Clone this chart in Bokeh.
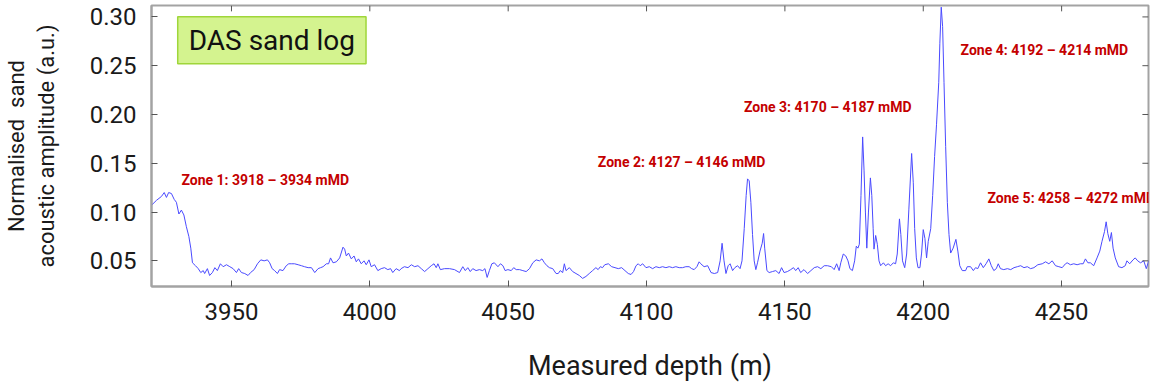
from bokeh.plotting import figure
from bokeh.models import FixedTicker, NumeralTickFormatter, Range1d, Label
from bokeh.embed import file_html
from bokeh.resources import INLINE

# ---- data (depth in m, normalised sand acoustic amplitude) ----
depth = [
    3921.1, 3922.9, 3924.7, 3925.7, 3926.5, 3927.3, 3928.3, 3929.3, 3930.1, 3931.0,
    3931.9, 3932.8, 3933.7, 3934.6, 3935.3, 3935.9, 3937.0, 3938.0, 3938.9, 3939.8,
    3940.3, 3941.3, 3942.1, 3943.1, 3944.0, 3944.9, 3946.0, 3947.0, 3948.2, 3949.4,
    3950.6, 3951.8, 3952.6, 3953.6, 3954.8, 3956.0, 3956.9, 3958.2, 3959.4, 3960.6,
    3961.8, 3963.0, 3963.8, 3964.7, 3965.6, 3966.6, 3967.4, 3968.6, 3969.8, 3970.7,
    3971.6, 3972.8, 3974.1, 3975.3, 3976.4, 3977.7, 3978.9, 3980.1, 3981.3, 3982.2,
    3983.1, 3984.3, 3985.1, 3985.8, 3986.7, 3987.9, 3989.1, 3990.3, 3990.9, 3991.5,
    3992.3, 3993.3, 3994.3, 3995.1, 3995.9, 3996.9, 3997.9, 3998.7, 3999.7, 4000.5,
    4001.7, 4002.9, 4004.1, 4005.3, 4006.5, 4007.5, 4008.3, 4009.5, 4010.7,
    4011.3, 4012.5, 4013.8, 4015.0, 4016.2, 4017.4, 4018.6, 4019.8, 4021.0, 4022.2,
    4023.2, 4024.0, 4024.6, 4025.5, 4027.0, 4028.8, 4030.6, 4032.4, 4033.6, 4034.5,
    4035.4, 4036.3, 4037.2, 4038.4, 4039.6, 4040.8, 4041.6, 4042.4, 4043.2, 4044.1,
    4045.0, 4046.3, 4047.2, 4048.1, 4048.9, 4049.9, 4051.1, 4052.0, 4052.9, 4054.1,
    4055.3, 4056.5, 4057.7, 4058.9, 4060.1, 4061.3, 4062.2, 4063.1, 4064.0, 4064.9,
    4066.1, 4067.3, 4068.1, 4068.8, 4069.7, 4070.3, 4070.9, 4072.1, 4073.3, 4074.5,
    4075.7, 4076.9, 4078.1, 4079.3, 4080.5, 4081.7, 4082.5, 4083.3, 4084.1, 4084.9,
    4086.2, 4087.4, 4088.6, 4089.8, 4091.0, 4092.2, 4093.4, 4094.4, 4095.3, 4096.2,
    4097.0, 4097.7, 4098.6, 4099.8, 4101.0, 4102.2, 4103.4, 4104.6, 4105.8, 4107.0,
    4108.2, 4109.4, 4110.6, 4111.8, 4113.0, 4114.2, 4115.4, 4116.3, 4117.2, 4118.2,
    4119.0,
    4119.6, 4120.8, 4122.1, 4123.3, 4124.5, 4125.7, 4126.6, 4127.3, 4128.0, 4128.7,
    4129.5, 4130.2, 4131.1, 4131.9, 4132.9, 4133.8, 4134.5, 4135.3, 4136.0, 4136.5,
    4137.1, 4137.7, 4138.3, 4138.9, 4139.5, 4140.1, 4141.0, 4141.8, 4142.3, 4142.7,
    4143.5, 4144.3, 4145.5, 4146.7, 4147.9, 4148.8, 4149.7, 4150.9, 4152.1, 4153.1,
    4153.9, 4154.8, 4155.7, 4156.9, 4158.2, 4159.4, 4160.6, 4161.8, 4163.0, 4164.2,
    4165.4, 4166.8, 4167.8, 4168.7, 4169.6, 4170.2, 4171.1, 4172.0, 4172.8, 4173.5,
    4174.4, 4175.2, 4175.8, 4176.4, 4176.9, 4177.5, 4178.1, 4178.6, 4179.1, 4179.6,
    4180.2, 4180.9, 4181.4, 4181.9, 4182.2, 4182.8, 4183.4, 4184.0, 4184.6, 4185.6,
    4186.4, 4187.3, 4188.2, 4189.2, 4190.0, 4190.6, 4191.4, 4191.9, 4192.5, 4193.3,
    4194.0, 4194.8, 4195.8, 4196.4, 4196.9, 4197.5, 4198.1, 4198.8, 4199.4, 4200.0,
    4200.6, 4201.2, 4201.8, 4202.7, 4203.4, 4204.1, 4204.8, 4205.6, 4206.0, 4206.5,
    4207.0, 4207.5, 4208.1, 4208.7, 4209.3,
    4209.9, 4210.8, 4211.8, 4212.5, 4213.2, 4214.1, 4215.3, 4215.9, 4217.1, 4218.1,
    4218.9, 4219.7, 4220.7, 4221.7, 4222.7, 4223.7, 4224.6, 4225.5, 4226.4, 4227.1,
    4227.9, 4229.1, 4230.4, 4231.6, 4232.8, 4234.0, 4235.2, 4236.4, 4237.6, 4238.8,
    4240.0, 4241.4, 4243.0, 4244.2, 4245.4, 4246.6, 4247.8, 4249.0, 4250.2, 4251.4,
    4252.0, 4253.2, 4254.4, 4255.6, 4256.8, 4257.8, 4258.6, 4259.5, 4260.4, 4261.6,
    4262.8, 4263.8, 4264.6, 4265.5, 4266.1, 4266.7, 4267.4, 4268.0, 4268.6, 4269.4,
    4270.6, 4271.8, 4273.0, 4273.6, 4274.6, 4275.8, 4276.6, 4277.5, 4278.5, 4279.7,
    4280.6, 4281.5, 4282.1,
]

amplitude = [
    0.107, 0.112, 0.116, 0.120, 0.115, 0.120, 0.119, 0.113, 0.110, 0.098,
    0.102, 0.097, 0.085, 0.075, 0.063, 0.048, 0.045, 0.042, 0.038, 0.040,
    0.037, 0.042, 0.035, 0.038, 0.043, 0.040, 0.047, 0.044, 0.046, 0.044,
    0.042, 0.038, 0.042, 0.038, 0.037, 0.035, 0.038, 0.041, 0.047, 0.051,
    0.050, 0.051, 0.048, 0.042, 0.040, 0.037, 0.041, 0.040, 0.045, 0.047,
    0.047, 0.047, 0.046, 0.045, 0.044, 0.043, 0.043, 0.038, 0.042, 0.043,
    0.044, 0.047, 0.047, 0.053, 0.048, 0.049, 0.053, 0.064, 0.062, 0.055,
    0.058, 0.052, 0.055, 0.049, 0.052, 0.047, 0.050, 0.046, 0.051, 0.044,
    0.046, 0.040, 0.042, 0.043, 0.041, 0.042, 0.038, 0.042, 0.040,
    0.042, 0.044, 0.043, 0.046, 0.044, 0.045, 0.042, 0.039, 0.042, 0.045,
    0.047, 0.043, 0.047, 0.041, 0.042, 0.042, 0.041, 0.038, 0.044, 0.040,
    0.043, 0.039, 0.042, 0.040, 0.041, 0.040, 0.042, 0.033, 0.040, 0.047,
    0.048, 0.044, 0.047, 0.045, 0.040, 0.041, 0.040, 0.043, 0.041, 0.041,
    0.040, 0.039, 0.042, 0.048, 0.051, 0.050, 0.052, 0.048, 0.045, 0.043,
    0.042, 0.037, 0.037, 0.040, 0.038, 0.047, 0.040, 0.043, 0.039, 0.037,
    0.035, 0.032, 0.034, 0.037, 0.040, 0.043, 0.041, 0.044, 0.043, 0.046,
    0.047, 0.044, 0.043, 0.042, 0.043, 0.040, 0.037, 0.036, 0.039, 0.045,
    0.047, 0.045, 0.047, 0.043, 0.044, 0.042, 0.044, 0.043, 0.044, 0.043,
    0.044, 0.043, 0.044, 0.043, 0.043, 0.044, 0.044, 0.042, 0.041, 0.044,
    0.049,
    0.047, 0.044, 0.045, 0.038, 0.037, 0.038, 0.050, 0.068, 0.050, 0.037,
    0.045, 0.047, 0.040, 0.043, 0.045, 0.042, 0.050, 0.083, 0.117, 0.134,
    0.132, 0.110, 0.077, 0.050, 0.041, 0.048, 0.060, 0.068, 0.078, 0.063,
    0.040, 0.038, 0.039, 0.040, 0.037, 0.043, 0.038, 0.039, 0.041, 0.043,
    0.040, 0.043, 0.038, 0.041, 0.037, 0.040, 0.043, 0.044, 0.042, 0.045,
    0.045, 0.044, 0.041, 0.047, 0.040, 0.048, 0.057, 0.055, 0.050, 0.042,
    0.040, 0.050, 0.065, 0.063, 0.067, 0.117, 0.177, 0.143, 0.100, 0.063,
    0.100, 0.135, 0.117, 0.083, 0.062, 0.076, 0.067, 0.050, 0.045, 0.048,
    0.045, 0.047, 0.045, 0.048, 0.047, 0.057, 0.093, 0.077, 0.050, 0.043,
    0.057, 0.103, 0.160, 0.130, 0.083, 0.053, 0.043, 0.043, 0.058, 0.082,
    0.073, 0.053, 0.070, 0.083, 0.117, 0.157, 0.190, 0.233, 0.273, 0.310,
    0.290, 0.233, 0.167, 0.110, 0.077,
    0.058, 0.063, 0.072, 0.060, 0.045, 0.040, 0.040, 0.044, 0.044, 0.040,
    0.043, 0.042, 0.048, 0.043, 0.047, 0.052, 0.045, 0.040, 0.042, 0.047,
    0.042, 0.041, 0.042, 0.041, 0.043, 0.044, 0.045, 0.043, 0.044, 0.042,
    0.043, 0.046, 0.047, 0.049, 0.047, 0.050, 0.045, 0.044, 0.043, 0.047,
    0.048, 0.046, 0.047, 0.046, 0.047, 0.047, 0.052, 0.048, 0.048, 0.045,
    0.053, 0.060, 0.070, 0.080, 0.090, 0.078, 0.070, 0.079, 0.063, 0.053,
    0.044, 0.043, 0.045, 0.050, 0.047, 0.051, 0.053, 0.050, 0.048, 0.050,
    0.042, 0.050, 0.050,
]

x_ticks = [3950, 4000, 4050, 4100, 4150, 4200, 4250]
y_ticks = [0.05, 0.10, 0.15, 0.20, 0.25, 0.30]

zone_texts = [
    "Zone 1: 3918 – 3934 mMD",
    "Zone 2: 4127 – 4146 mMD",
    "Zone 3: 4170 – 4187 mMD",
    "Zone 4: 4192 – 4214 mMD",
    "Zone 5: 4258 – 4272 mMD",
]
zone_x = [3931.9, 4082.4, 4135.2, 4213.5, 4223.2]
zone_y = [0.1327, 0.151, 0.2077, 0.266, 0.1147]

FONT = "Roboto"
AXIS_GRAY = "#a3a3a3"
TICK_GRAY = "#555555"

X0, X1 = 3921.1, 4281.4
Y0, Y1 = 0.0237, 0.3117

p = figure(
    width=1151, height=384,
    output_backend="svg", toolbar_location=None,
    x_range=Range1d(X0, X1), y_range=Range1d(Y0, Y1),
    min_border_left=150, min_border_right=3, min_border_top=5, min_border_bottom=91,
    x_axis_label="Measured depth (m)",
    y_axis_label="Normalised\u00a0 sand\nacoustic amplitude (a.u.)",
)
p.background_fill_color = "white"
p.border_fill_color = "white"
p.outline_line_color = AXIS_GRAY
p.outline_line_width = 2
p.xgrid.visible = False
p.ygrid.visible = False

p.line(depth, amplitude, line_color="#4a4aff", line_width=1.0)

p.xaxis.ticker = FixedTicker(ticks=x_ticks)
p.xaxis.formatter = NumeralTickFormatter(format="0")
p.yaxis.ticker = FixedTicker(ticks=y_ticks)
p.yaxis.formatter = NumeralTickFormatter(format="0.00")

for ax in list(p.xaxis) + list(p.yaxis):
    ax.axis_line_color = AXIS_GRAY
    ax.axis_line_width = 2
    ax.major_tick_in = 6
    ax.major_tick_out = 0
    ax.major_tick_line_color = TICK_GRAY
    ax.minor_tick_line_color = None
    ax.major_label_text_font = FONT
    ax.major_label_text_font_size = "24px"
    ax.major_label_text_color = "#1a1a1a"
    ax.axis_label_text_font = FONT
    ax.axis_label_text_font_style = "normal"
    ax.axis_label_text_color = "#1a1a1a"

p.xaxis.major_label_standoff = 16
p.xaxis.axis_label_text_font_size = "27px"
p.xaxis.axis_label_standoff = 27
p.yaxis.major_label_standoff = 15
p.yaxis.axis_label_text_font_size = "22px"
p.yaxis.axis_label_standoff = 28

# inward ticks on the top and right edges of the box (MATLAB style)
p.segment(x0=x_ticks, x1=x_ticks, y0=[Y1] * len(x_ticks), y1=[Y1 - 0.006] * len(x_ticks),
          line_color=TICK_GRAY, line_width=1)
p.segment(x0=[X1] * len(y_ticks), x1=[X1 - 2.2] * len(y_ticks), y0=y_ticks, y1=y_ticks,
          line_color=TICK_GRAY, line_width=1)

# zone annotations
for t, zx, zy in zip(zone_texts, zone_x, zone_y):
    p.add_layout(Label(x=zx, y=zy, text=t, text_font=FONT, text_font_size="14px",
                       text_font_style="bold", text_color="#c40000",
                       text_align="left", text_baseline="middle"))

# "DAS sand log" box
p.add_layout(Label(x=3964.6, y=0.2762, text="DAS sand log", text_font=FONT,
                   text_font_size="28px", text_color="#111111",
                   text_align="center", text_baseline="middle",
                   background_fill_color="#d4f38f", background_fill_alpha=1.0,
                   border_line_color="#9fd63a", border_line_width=1.5,
                   padding=dict(left=11, right=11, top=7, bottom=7)))

open("out.html", "w").write(file_html(p, INLINE))
